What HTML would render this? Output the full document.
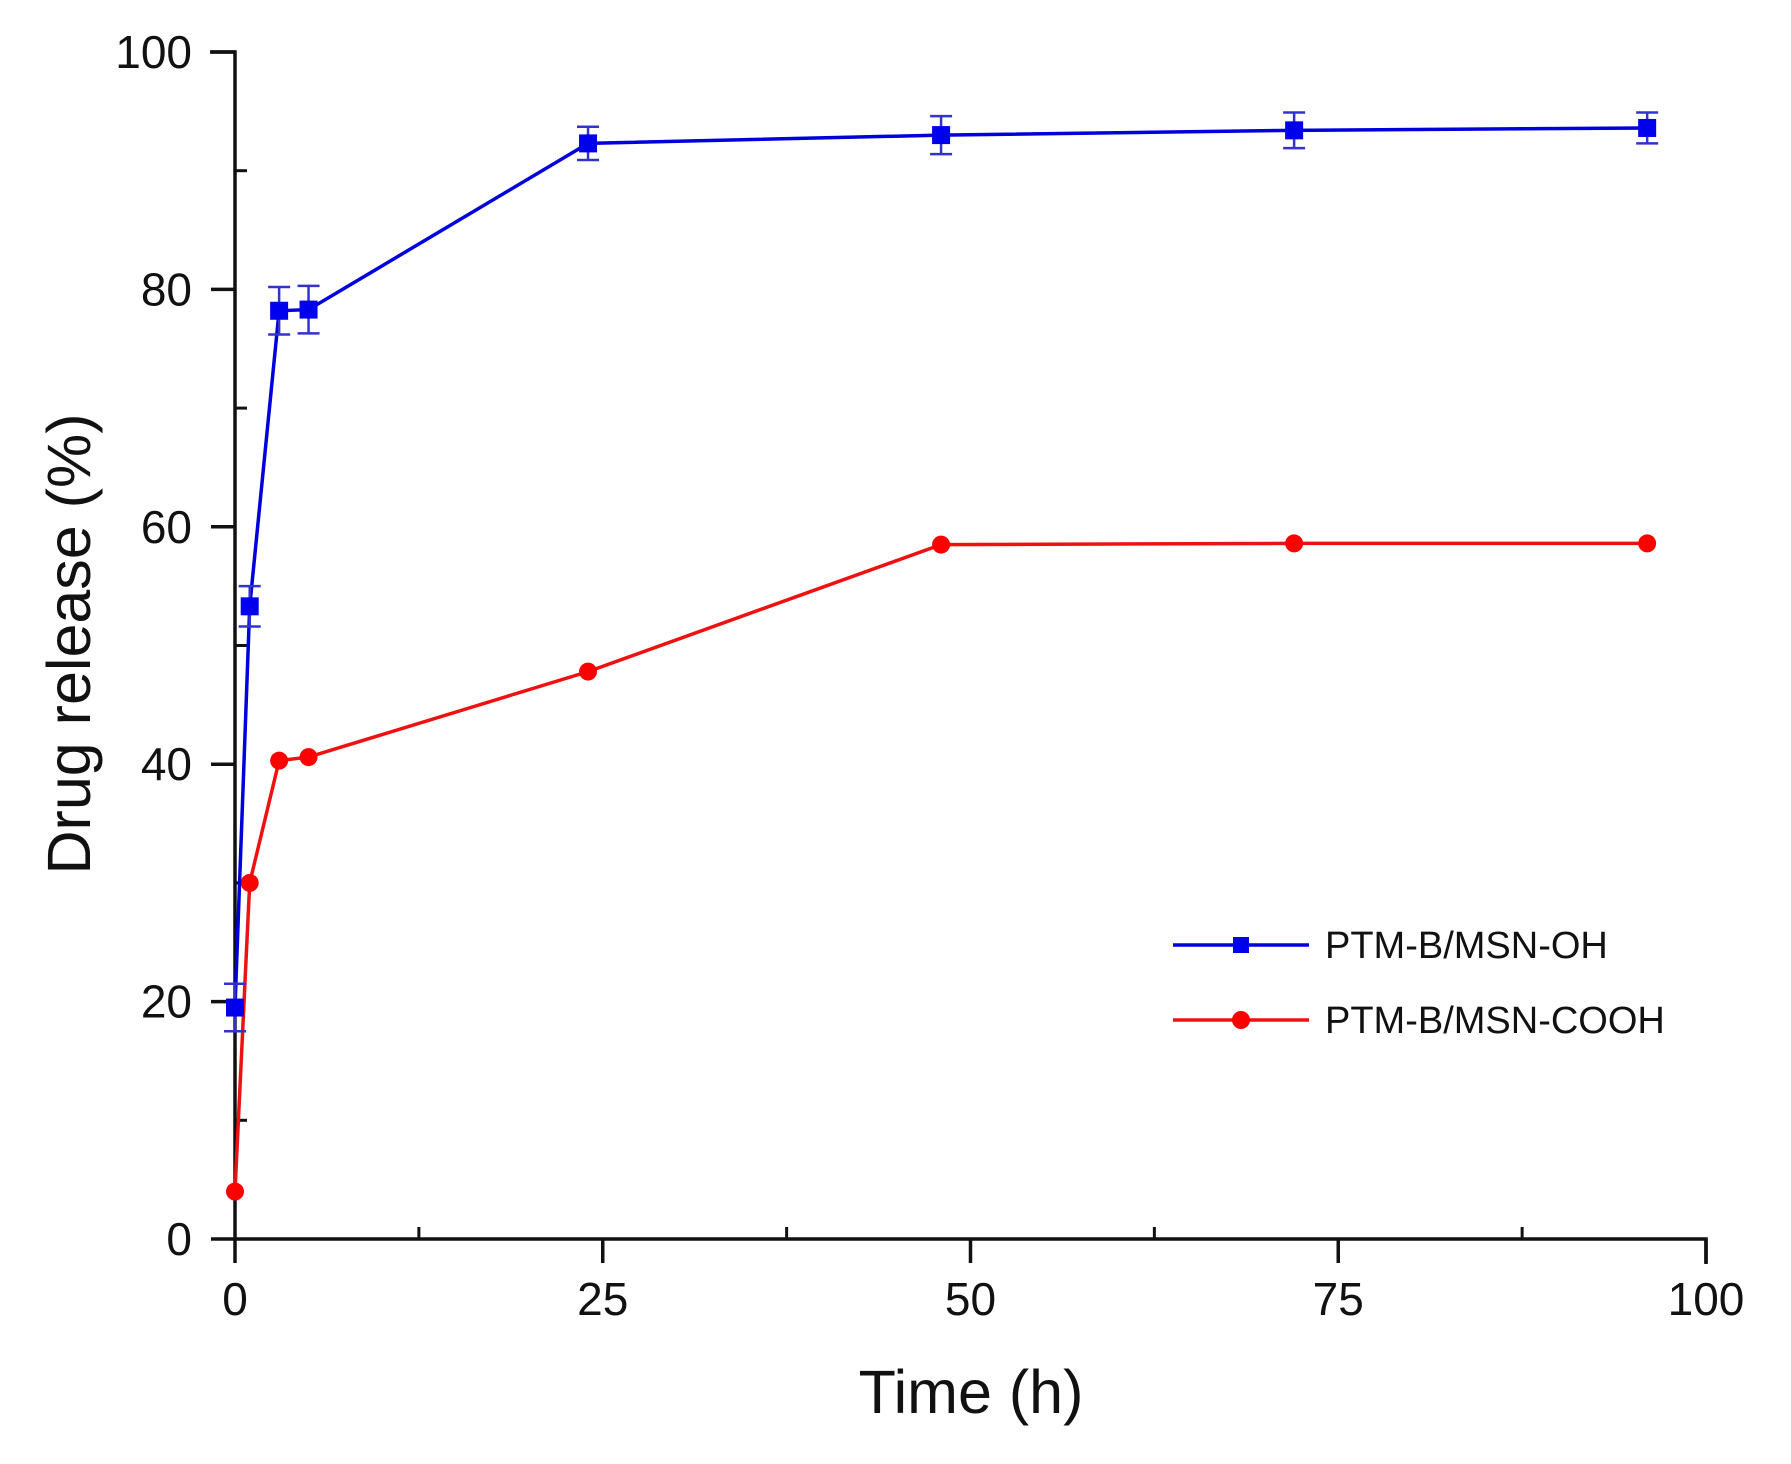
<!DOCTYPE html>
<html><head><meta charset="utf-8"><style>
html,body{margin:0;padding:0;background:#fff;}
svg{display:block;}
text{font-family:"Liberation Sans",sans-serif;fill:#111;}
</style></head><body>
<svg id="chart" width="1791" height="1464" viewBox="0 0 1791 1464" xmlns="http://www.w3.org/2000/svg">
<g id="axes"></g>
<g id="series"></g>
<text x="971" y="1413" font-size="61" text-anchor="middle">Time (h)</text>
<text transform="translate(90,644) rotate(-90)" font-size="61" text-anchor="middle">Drug release (%)</text>
<g>
<g>
<line x1="1173" y1="945" x2="1309" y2="945" stroke="#0000dd" stroke-width="3.5"/>
<rect x="1233" y="937" width="16" height="16" fill="#0000ee"/>
<text x="1325" y="958" font-size="38">PTM-B/MSN-OH</text></g>
<g>
<line x1="1173" y1="1020" x2="1309" y2="1020" stroke="#ee1111" stroke-width="3.5"/>
<circle cx="1241" cy="1020" r="9" fill="#ff0000"/>
<text x="1325" y="1033" font-size="38">PTM-B/MSN-COOH</text></g>
</g>
</svg>
<script>
const times = [0, 1, 3, 5, 24, 48, 72, 96];
const ohValues = [19.5, 53.3, 78.2, 78.3, 92.3, 93.0, 93.4, 93.6];
const ohErrors = [2.0, 1.7, 2.0, 2.0, 1.4, 1.6, 1.5, 1.3];
const coohValues = [4.0, 30.0, 40.3, 40.6, 47.8, 58.5, 58.6, 58.6];
const xTicks = [0, 25, 50, 75, 100];
const xTickLabels = ["0", "25", "50", "75", "100"];
const yTicks = [0, 20, 40, 60, 80, 100];
const yTickLabels = ["0", "20", "40", "60", "80", "100"];

const NS = "http://www.w3.org/2000/svg";
const X0 = 235, X1 = 1706, Y0 = 1239, Y1 = 52;
function xs(v){ return X0 + (v/100)*(X1-X0); }
function ys(v){ return Y0 - (v/100)*(Y0-Y1); }
function mk(tag, attrs, parent){ const e=document.createElementNS(NS,tag); for(const k in attrs) e.setAttribute(k,attrs[k]); parent.appendChild(e); return e; }

const axes = document.getElementById('axes');
const ax = mk('path',{d:`M${X0-25},${Y1} H${X0} V${Y0} H${X1} V${Y0+25}`,fill:'none',stroke:'#111','stroke-width':3.5},axes);


xTicks.forEach((t,i)=>{
  const l = mk('line',{x1:xs(t),x2:xs(t),y1:Y0,y2:Y0+24,stroke:'#111','stroke-width':3.5},axes);
  
  
  const tx = mk('text',{x:xs(t),y:Y0+76,'font-size':46,'text-anchor':'middle'},axes);
  tx.textContent = xTickLabels[i];
  
  
  if(i<xTicks.length-1){
    const m = mk('line',{x1:xs(t+12.5),x2:xs(t+12.5),y1:Y0,y2:Y0-12,stroke:'#111','stroke-width':3},axes);
    
    
  }
});
yTicks.forEach((t,i)=>{
  const l = mk('line',{x1:X0-24,x2:X0,y1:ys(t),y2:ys(t),stroke:'#111','stroke-width':3.5},axes);
  
  
  const tx = mk('text',{x:192,y:ys(t)+16,'font-size':46,'text-anchor':'end'},axes);
  tx.textContent = yTickLabels[i];
  
  
  if(i<yTicks.length-1){
    const m = mk('line',{x1:X0,x2:X0+12,y1:ys(t+10),y2:ys(t+10),stroke:'#111','stroke-width':3},axes);
    
    
  }
});

const series = document.getElementById('series');
const pl1 = mk('polyline',{points:times.map((t,i)=>xs(t)+','+ys(coohValues[i])).join(' '),fill:'none',stroke:'#ee1111','stroke-width':3.5},series);


times.forEach((t,i)=>{
  const c = mk('circle',{cx:xs(t),cy:ys(coohValues[i]),r:9,fill:'#ff0000'},series);
  
  
});
const pl2 = mk('polyline',{points:times.map((t,i)=>xs(t)+','+ys(ohValues[i])).join(' '),fill:'none',stroke:'#0000dd','stroke-width':3.5},series);


times.forEach((t,i)=>{
  const x=xs(t), yt=ys(ohValues[i]+ohErrors[i]), yb=ys(ohValues[i]-ohErrors[i]);
  const e = mk('path',{d:`M${x},${yt} V${yb} M${x-11},${yt} H${x+11} M${x-11},${yb} H${x+11}`,stroke:'#3333cc','stroke-width':2.5,fill:'none'},series);
  
  
  const r = mk('rect',{x:x-9,y:ys(ohValues[i])-9,width:18,height:18,fill:'#0000ee'},series);
  
  
});
</script>
</body></html>
